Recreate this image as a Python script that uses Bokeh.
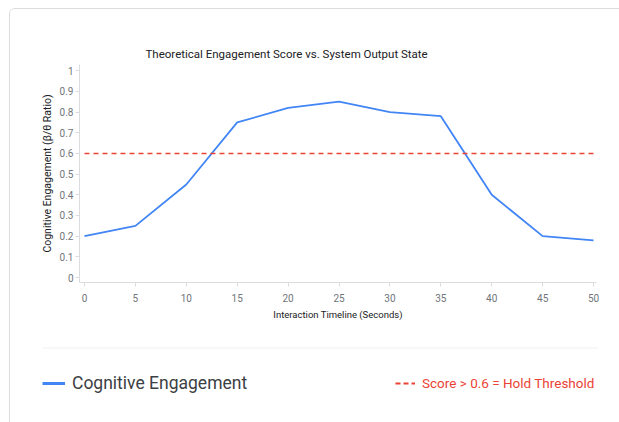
from bokeh.plotting import figure
from bokeh.layouts import column
from bokeh.models import (Range1d, FixedTicker, Legend, LegendItem, BoxAnnotation)
from bokeh.embed import file_html
from bokeh.resources import INLINE

# ---- data ----
time_s = [0, 5, 10, 15, 20, 25, 30, 35, 40, 45, 50]
engagement = [0.20, 0.25, 0.45, 0.75, 0.82, 0.85, 0.80, 0.78, 0.40, 0.20, 0.18]
threshold = 0.6
x_ticks = [0, 5, 10, 15, 20, 25, 30, 35, 40, 45, 50]
y_ticks = [0, 0.1, 0.2, 0.3, 0.4, 0.5, 0.6, 0.7, 0.8, 0.9, 1]
y_tick_labels = ["0", "0.1", "0.2", "0.3", "0.4", "0.5", "0.6", "0.7", "0.8", "0.9", "1"]
series_name = "Cognitive Engagement"
threshold_name = "Score > 0.6 = Hold Threshold"
title_text = "Theoretical Engagement Score vs. System Output State"
x_title = "Interaction Timeline (Seconds)"
y_title = "Cognitive Engagement (\u03b2/\u03b8 Ratio)"

FONT = "Roboto"
BLUE = "#4285F4"
RED = "#EA4335"
GRID = "#dadce0"
W = 609
NAN = float("nan")

x0, x1 = -0.49, 50.29
p = figure(width=W, height=321, output_backend="svg", toolbar_location=None,
           x_range=Range1d(x0, x1), y_range=Range1d(-0.024, 1.03),
           min_border_left=69, min_border_right=23, min_border_top=55,
           min_border_bottom=48, background_fill_color="white",
           border_fill_color="white", outline_line_color=None)
p.frame_align = False

p.title.text = title_text
p.title.align = "left"
p.title.offset = 66
p.title.standoff = 8
p.title.text_font = FONT
p.title.text_font_size = "11.5px"
p.title.text_font_style = "normal"
p.title.text_color = "#202124"

p.xgrid.visible = False
p.ygrid.visible = False

for ax in (p.xaxis[0], p.yaxis[0]):
    ax.axis_line_color = GRID
    ax.major_tick_line_color = GRID
    ax.major_tick_in = 0
    ax.major_tick_out = 4
    ax.minor_tick_line_color = None
    ax.major_label_text_font = FONT
    ax.major_label_text_font_size = "10px"
    ax.major_label_text_color = "#70757a"
    ax.axis_label_text_font = FONT
    ax.axis_label_text_font_style = "normal"
    ax.axis_label_text_color = "#202124"

p.xaxis.ticker = FixedTicker(ticks=x_ticks)
p.xaxis.axis_label = x_title
p.xaxis.axis_label_text_font_size = "9.5px"
p.xaxis.major_label_standoff = 7
p.xaxis.axis_label_standoff = 4

p.yaxis.ticker = FixedTicker(ticks=y_ticks)
p.yaxis.major_label_overrides = {t: l for t, l in zip(y_ticks, y_tick_labels)}
p.yaxis.axis_label = y_title
p.yaxis.axis_label_text_font_size = "10.5px"
p.yaxis.major_label_standoff = 2
p.yaxis.axis_label_standoff = 3

p.line(time_s, engagement, line_color=BLUE, line_width=1.8)
p.line([time_s[0], x1], [threshold, threshold], line_color=RED,
       line_width=1.5, line_dash="5 4")

# ---- legend strip ----
q = figure(width=W, height=92, output_backend="svg", toolbar_location=None,
           x_range=Range1d(0, W), y_range=Range1d(92, 0),
           x_axis_location=None, y_axis_location=None,
           min_border=0, outline_line_color=None,
           background_fill_color="white", border_fill_color="white")
q.frame_align = False
q.title.visible = False
q.xgrid.visible = False
q.ygrid.visible = False
q.add_layout(BoxAnnotation(left=32, right=588, top=17, bottom=18,
                           left_units="canvas", right_units="canvas",
                           top_units="canvas", bottom_units="canvas",
                           fill_color=GRID, line_color=None))
k1 = q.line([NAN], [NAN], line_color=BLUE, line_width=3)
k2 = q.line([NAN], [NAN], line_color=RED, line_width=2, line_dash="5 3")

leg1 = Legend(items=[LegendItem(label=series_name, renderers=[k1])],
              location=(32, 29), padding=0, margin=0, border_line_color=None,
              background_fill_alpha=0, glyph_width=23, label_standoff=7,
              label_text_font=FONT, label_text_font_size="17.5px",
              label_text_color="#3c4043")
leg2 = Legend(items=[LegendItem(label=threshold_name, renderers=[k2])],
              location=(385, 29), padding=0, margin=0, border_line_color=None,
              background_fill_alpha=0, glyph_width=20, label_standoff=7,
              label_text_font=FONT, label_text_font_size="13.5px",
              label_text_color=RED)
q.add_layout(leg1)
q.add_layout(leg2)

layout = column(p, q, styles={"margin-left": "9px", "margin-top": "8px",
                              "border-left": "1px solid #dadce0",
                              "border-top": "1px solid #dadce0",
                              "border-top-left-radius": "6px"})

open("out.html", "w").write(file_html(layout, INLINE))
